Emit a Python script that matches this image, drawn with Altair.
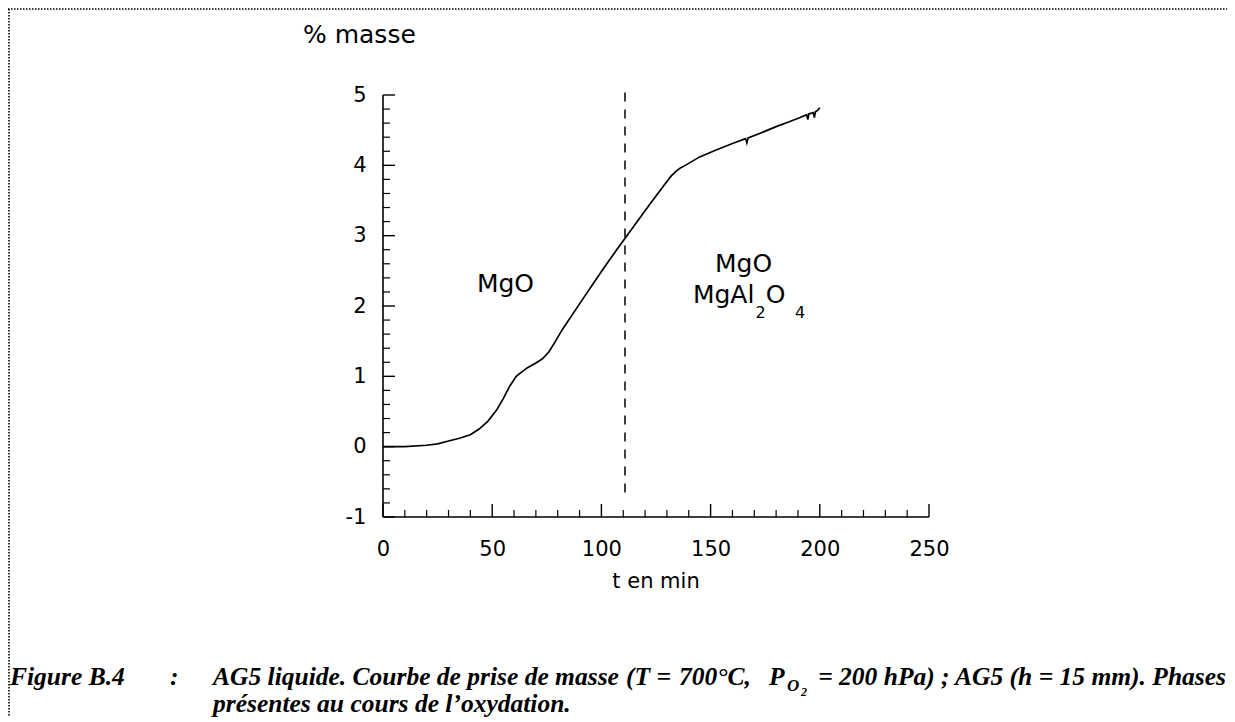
import altair as alt
import pandas as pd

# ---- data ----
T_MIN = [0, 10, 20, 25, 30, 35, 40, 44, 48, 52, 55, 58, 61, 63, 66, 70, 73, 76, 79, 82,
         90, 100, 107, 115, 122, 128, 132, 134, 136, 139, 145, 152, 160, 166, 166.6, 167.2,
         173, 180, 186, 191, 194, 194.5, 195, 197, 197.5, 198, 199, 200]
MASS = [0, 0, 0.02, 0.04, 0.08, 0.12, 0.17, 0.25, 0.36, 0.52, 0.68, 0.86, 1.0, 1.05, 1.12,
        1.19, 1.25, 1.35, 1.5, 1.66, 2.03, 2.49, 2.8, 3.14, 3.44, 3.69, 3.85, 3.91, 3.96,
        4.01, 4.12, 4.21, 4.31, 4.38, 4.32, 4.39, 4.46, 4.55, 4.62, 4.68, 4.72, 4.65, 4.73,
        4.75, 4.68, 4.76, 4.78, 4.82]
PHASE_LIMIT_T = [110.8, 110.8]
PHASE_LIMIT_Y = [-0.65, 5.04]

X_LABELS = [0, 50, 100, 150, 200, 250]
Y_LABELS = [-1, 0, 1, 2, 3, 4, 5]
X_MINOR = [v for v in range(0, 251, 10) if v % 50 != 0]
Y_MINOR = [round(-1 + 0.2 * i, 1) for i in range(31) if (i % 5) != 0]

ANN_TEXT = ["MgO", "MgO", "MgAl", "2", "O", "4"]
ANN_T = [43.0, 152.0, 141.9, 170.6, 175.3, 188.6]
ANN_Y = [2.20, 2.48, 2.04, 1.83, 2.04, 1.83]
ANN_SIZE = [25, 25, 25, 16, 25, 16]

Y_TITLE = "% masse"
X_TITLE = "t en min"
CAP_LABEL = "Figure B.4"
CAP_1A = "AG5 liquide. Courbe de prise de masse"
CAP_1B = "(T ="
CAP_1C = "700°C,"
CAP_1D = "P"
CAP_SUB1 = "O"
CAP_SUB2 = "2"
CAP_1E = "= 200 hPa) ; AG5 (h = 15 mm). Phases"
CAP_2 = "présentes au cours de l’oxydation."

W, H = 546, 422
SANS = "DejaVu Sans"
SERIF = "Liberation Serif"

xs = alt.Scale(domain=[0, 250], nice=False, zero=False)
ys = alt.Scale(domain=[-1, 5], nice=False, zero=False)

curve_df = pd.DataFrame({"t": T_MIN, "m": MASS})
curve = alt.Chart(curve_df).mark_line(color="black", strokeWidth=1.7).encode(
    x=alt.X("t:Q", scale=xs,
            axis=alt.Axis(values=X_LABELS, ticks=False, domain=False, grid=False,
                          labelFont=SANS, labelFontSize=21, labelPadding=21,
                          labelColor="black", labelFlush=False, title=None,
                          labelExpr="'' + datum.value")),
    y=alt.Y("m:Q", scale=ys,
            axis=alt.Axis(values=Y_LABELS, ticks=False, domain=False, grid=False,
                          labelFont=SANS, labelFontSize=21, labelPadding=17,
                          labelColor="black", labelFlush=False, title=None,
                          labelExpr="datum.value < 0 ? '-' + abs(datum.value) : '' + datum.value")),
    order=alt.Order("t:Q"),
)

dash_df = pd.DataFrame({"t": PHASE_LIMIT_T, "m": PHASE_LIMIT_Y})
dash = alt.Chart(dash_df).mark_line(color="black", strokeWidth=1.5, strokeDash=[9, 8]).encode(
    x=alt.X("t:Q"), y=alt.Y("m:Q"))

# axis lines
yline_df = pd.DataFrame({"t": [0], "m": [-1], "m2": [5]})
yaxis_line = alt.Chart(yline_df).mark_rule(color="black", strokeWidth=1.6).encode(
    x=alt.X("t:Q"), y=alt.Y("m:Q"), y2="m2:Q")
xline_df = pd.DataFrame({"t": [0], "t2": [250], "m": [-1]})
xaxis_line = alt.Chart(xline_df).mark_rule(color="black", strokeWidth=1.6).encode(
    x=alt.X("t:Q"), x2="t2:Q", y=alt.Y("m:Q"))

# inward ticks
xmaj = alt.Chart(pd.DataFrame({"t": X_LABELS})).mark_rule(color="black", strokeWidth=1.4).encode(
    x=alt.X("t:Q"), y=alt.value(H), y2=alt.value(H - 13))
xmin = alt.Chart(pd.DataFrame({"t": X_MINOR})).mark_rule(color="black", strokeWidth=1.2).encode(
    x=alt.X("t:Q"), y=alt.value(H), y2=alt.value(H - 7))
ymaj = alt.Chart(pd.DataFrame({"m": Y_LABELS})).mark_rule(color="black", strokeWidth=1.4).encode(
    y=alt.Y("m:Q"), x=alt.value(0), x2=alt.value(12))
ymin = alt.Chart(pd.DataFrame({"m": Y_MINOR})).mark_rule(color="black", strokeWidth=1.2).encode(
    y=alt.Y("m:Q"), x=alt.value(0), x2=alt.value(7))

ann_df = pd.DataFrame({"txt": ANN_TEXT, "t": ANN_T, "m": ANN_Y, "fs": ANN_SIZE})
ann = alt.Chart(ann_df).mark_text(align="left", baseline="alphabetic", font=SANS,
                                  color="black").encode(
    x=alt.X("t:Q"), y=alt.Y("m:Q"),
    text="txt:N", size=alt.Size("fs:Q", scale=None, legend=None))


def label(text, px, py, size, font=SANS, align="left", italic=False, bold=False):
    kw = dict(align=align, baseline="alphabetic", font=font, fontSize=size, color="black")
    if italic:
        kw["fontStyle"] = "italic"
    if bold:
        kw["fontWeight"] = "bold"
    return alt.Chart(pd.DataFrame({"s": [text]})).mark_text(**kw).encode(
        x=alt.value(px), y=alt.value(py), text="s:N")


CS = 25.5
OX = 383  # page x of the plot origin
texts = [
    label(Y_TITLE, -80, -52, 25),
    label(X_TITLE, W / 2, 493, 21, align="center"),
    label(CAP_LABEL, 10 - OX, 590, CS, SERIF, italic=True, bold=True),
    label(":", 170 - OX, 590, CS, SERIF, italic=True, bold=True),
    label(CAP_1A, 213 - OX, 590, CS, SERIF, italic=True, bold=True),
    label(CAP_1B, 626 - OX, 590, CS, SERIF, italic=True, bold=True),
    label(CAP_1C, 679 - OX, 590, CS, SERIF, italic=True, bold=True),
    label(CAP_1D, 769 - OX, 590, CS, SERIF, italic=True, bold=True),
    label(CAP_SUB1, 787 - OX, 596, 17, SERIF, italic=True, bold=True),
    label(CAP_SUB2, 801 - OX, 601, 12, SERIF, italic=True, bold=True),
    label(CAP_1E, 1226 - OX, 590, CS, SERIF, align="right", italic=True, bold=True),
    label(CAP_2, 213 - OX, 617, CS, SERIF, italic=True, bold=True),
]

# dotted frame of the figure (top and left)
frame_df = pd.DataFrame({"a": [0]})
frame_top = alt.Chart(frame_df).mark_rule(color="black", strokeWidth=1.6, strokeDash=[1.5, 1.5]).encode(
    x=alt.value(-375), x2=alt.value(844), y=alt.value(-86))
frame_left = alt.Chart(frame_df).mark_rule(color="black", strokeWidth=1.6, strokeDash=[1.5, 1.5]).encode(
    x=alt.value(-374), y=alt.value(-86), y2=alt.value(640))

chart = alt.layer(
    curve, dash, yaxis_line, xaxis_line, xmaj, xmin, ymaj, ymin, ann, frame_top, frame_left, *texts
).properties(
    width=W, height=H,
    autosize=alt.AutoSizeParams(type="none"),
    padding={"left": 375, "top": 87, "right": 298, "bottom": 200},
    background="white",
).configure_view(stroke=None)

chart.save("out.html", embed_options={"renderer": "svg", "actions": False})
